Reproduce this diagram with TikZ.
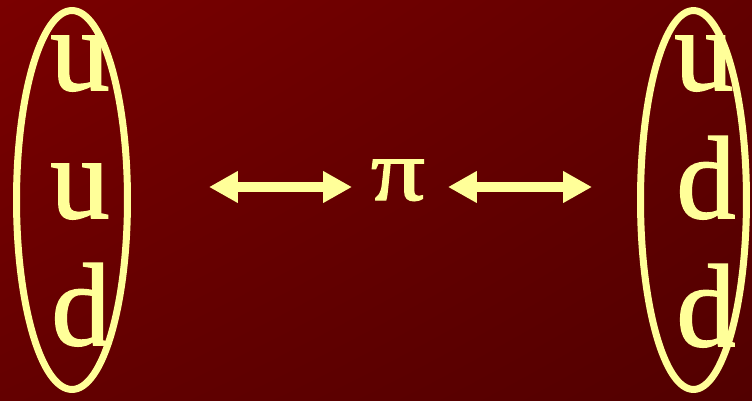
\documentclass[tikz,border=0pt]{standalone}
\usepackage{fontspec}
\setmainfont{Liberation Serif}[FakeBold=1.5]
\usetikzlibrary{shapes.geometric,arrows.meta,shadings}

\definecolor{quarkyellow}{RGB}{255,255,153}
\definecolor{bgtl}{RGB}{122,0,0}
\definecolor{bgtr}{RGB}{98,0,0}
\definecolor{bgbl}{RGB}{100,0,0}
\definecolor{bgbr}{RGB}{82,0,0}

\tikzset{
  quark/.style={text=quarkyellow, anchor=base, inner sep=0pt, font=\fontsize{67}{67}\selectfont},
  baryon/.style={ellipse, draw=quarkyellow, line width=0.14cm, inner sep=0pt, minimum height=7.58cm},
  exchange/.style={quarkyellow, line width=0.19cm, {Triangle[length=0.58cm,width=0.6cm]}-{Triangle[length=0.58cm,width=0.6cm]}}
}

\begin{document}
\begin{tikzpicture}[x=0.02cm, y=-0.02cm]
  % Fondo degradado
  \shade[upper left=bgtl, upper right=bgtr, lower left=bgbl, lower right=bgbr] (0,0) rectangle (752,400);
  \useasboundingbox (0,0) rectangle (752,400);

  % Proton: u u d
  \node[baryon, minimum width=2.22cm] (proton) at (72,200) {};
  \node[quark] (pu1) at (80,90) {u};
  \node[quark] (pu2) at (80,218) {u};
  \node[quark] (pd1) at (81,345) {d};

  % Neutron: u d d
  \node[baryon, minimum width=2.12cm] (neutron) at (693.5,200) {};
  \node[quark] (nu1) at (704,90) {u};
  \node[quark] (nd1) at (706,218) {d};
  \node[quark] (nd2) at (706,346) {d};

  % Pion en el centro
  \node[quark, font=\fontsize{50}{50}\selectfont] (pion) at (398,200) {\scalebox{1.22}[1]{π}};

  % Flechas de intercambio
  \coordinate (la) at (209,187);
  \coordinate (lb) at (352,187);
  \coordinate (ra) at (448,187);
  \coordinate (rb) at (592,187);
  \draw[exchange] (la) -- (lb);
  \draw[exchange] (ra) -- (rb);
\end{tikzpicture}
\end{document}
